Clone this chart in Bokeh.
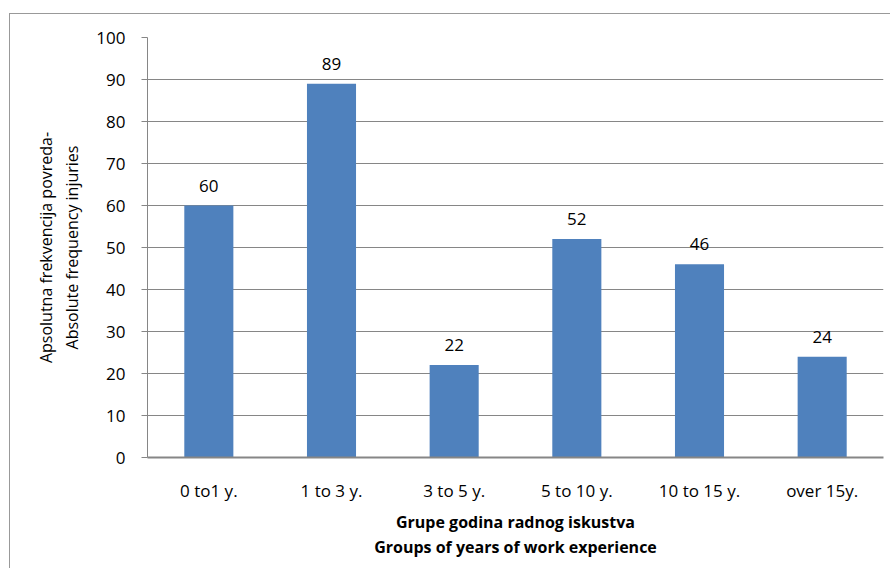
from bokeh.plotting import figure
from bokeh.models import ColumnDataSource, LabelSet, FixedTicker, Range1d
from bokeh.core.properties import value
from bokeh.embed import file_html
from bokeh.resources import INLINE

categories = ["0 to1 y.", "1 to 3 y.", "3 to 5 y.", "5 to 10 y.", "10 to 15 y.", "over 15y."]
values = [60, 89, 22, 52, 46, 24]
y_ticks = [0, 10, 20, 30, 40, 50, 60, 70, 80, 90, 100]

FONT = "Open Sans"
GRAY = "#868686"

src = ColumnDataSource(dict(cat=categories, val=values, lab=[str(v) for v in values]))

p = figure(x_range=categories, y_range=Range1d(0, 100), width=881, height=555,
           output_backend="svg", toolbar_location=None,
           min_border_left=137, min_border_right=8, min_border_top=23, min_border_bottom=112)
p.margin = (13, 0, 0, 9)
p.styles = {"border-top": "1px solid #999999", "border-left": "1px solid #999999"}

p.vbar(x="cat", top="val", width=0.4, source=src, fill_color="#4F81BD", line_color=None)

labels = LabelSet(x="cat", y="val", text="lab", source=src, text_align="center",
                  text_baseline="bottom", y_offset=14, text_font=value(FONT),
                  text_font_size="17px", text_color="black")
p.add_layout(labels)

p.outline_line_color = None
p.xgrid.grid_line_color = None
p.ygrid.grid_line_color = GRAY
p.ygrid.grid_line_width = 1
p.yaxis.ticker = FixedTicker(ticks=y_ticks)

p.yaxis.axis_line_color = GRAY
p.yaxis.major_tick_line_color = GRAY
p.yaxis.major_tick_out = 6
p.yaxis.major_tick_in = 0
p.yaxis.minor_tick_line_color = None
p.yaxis.major_label_standoff = 16
p.yaxis.major_label_text_font = FONT
p.yaxis.major_label_text_font_size = "17px"
p.yaxis.major_label_text_color = "black"
p.yaxis.axis_label = "Apsolutna frekvencija povreda-\nAbsolute frequency injuries"
p.yaxis.axis_label_text_font = FONT
p.yaxis.axis_label_text_font_size = "16px"
p.yaxis.axis_label_text_font_style = "normal"
p.yaxis.axis_label_text_color = "black"
p.yaxis.axis_label_standoff = 10

p.xaxis.axis_line_color = GRAY
p.xaxis.axis_line_width = 2
p.xaxis.major_tick_line_color = None
p.xaxis.minor_tick_line_color = None
p.xaxis.major_label_standoff = 15
p.xaxis.major_label_text_font = FONT
p.xaxis.major_label_text_font_size = "17px"
p.xaxis.major_label_text_color = "black"
p.xaxis.axis_label = "Grupe godina radnog iskustva\nGroups of years of work experience"
p.xaxis.axis_label_text_font = FONT
p.xaxis.axis_label_text_font_size = "16px"
p.xaxis.axis_label_text_font_style = "bold"
p.xaxis.axis_label_text_color = "black"
p.xaxis.axis_label_text_line_height = 1.15
p.xaxis.axis_label_standoff = 6

open("out.html", "w").write(file_html(p, INLINE))
